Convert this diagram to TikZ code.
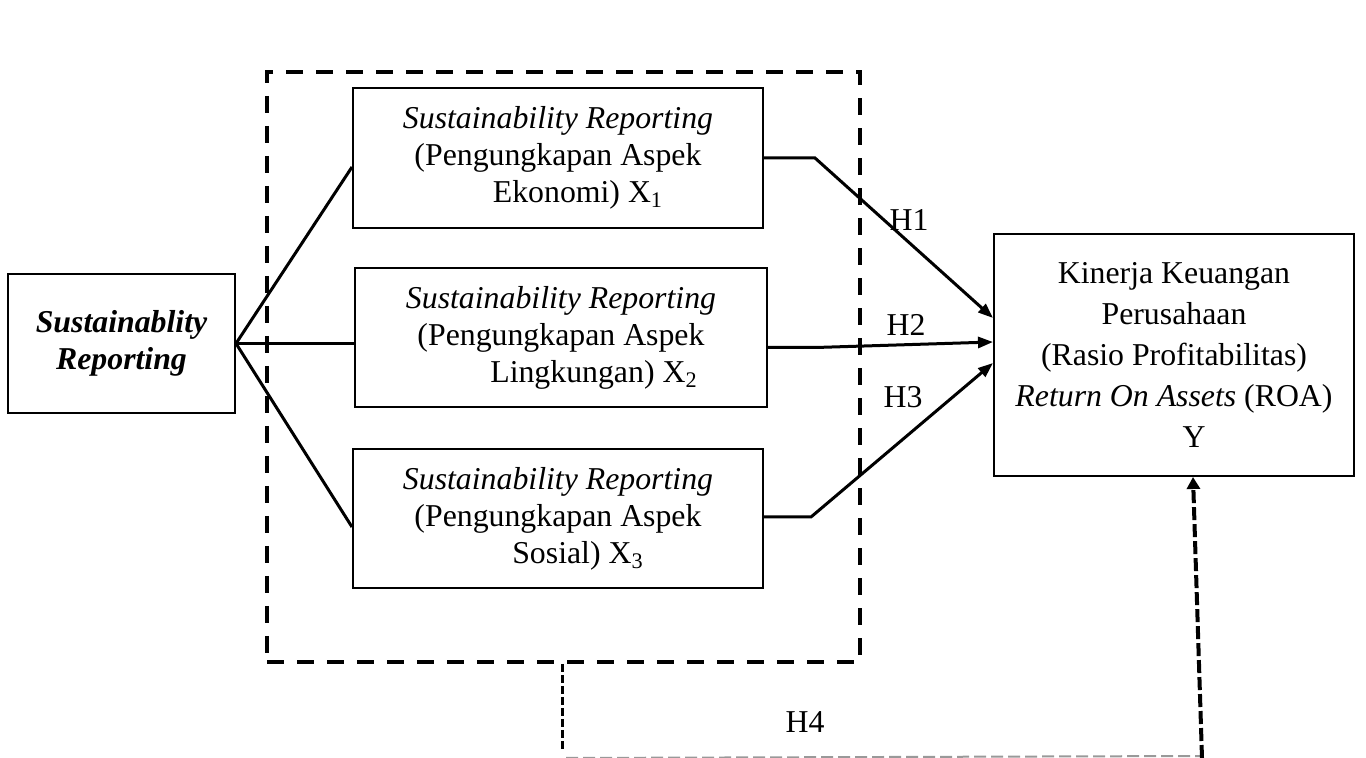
\documentclass[tikz,border=0pt]{standalone}
\usepackage{fontspec}
\setmainfont{Liberation Serif}
\usetikzlibrary{arrows.meta,calc}
\tikzset{
  box/.style={draw,line width=1pt,align=center,inner sep=0pt,
    font=\fontsize{15.9}{18.5}\selectfont},
  link/.style={line width=1.5pt},
  hyp/.style={line width=1.5pt,-{Triangle[length=7.5pt,width=5.5pt]}},
  grpbox/.style={draw,line width=2pt,dash pattern=on 8.5pt off 6.5pt},
  lbl/.style={font=\fontsize{15.9}{18.5}\selectfont},
}
\newcommand{\padl}[1][20pt]{\hspace*{#1}}

\begin{document}
\begin{tikzpicture}[x=0.5pt,y=-0.5pt]
\useasboundingbox (0,0) rectangle (1366,758);
% kelompok variabel X
\node[grpbox,minimum width=296.5pt,minimum height=295pt] (grp) at (563.5,367) {};
\node[box,minimum width=113.5pt,minimum height=69.5pt,
  font={\fontsize{15.9}{18.5}\selectfont\bfseries\itshape}] (sr) at (121.5,343.5)
  {Sustainablity\\Reporting};
\node[box,minimum width=205pt,minimum height=70pt] (x1) at (558,158)
  {\textit{Sustainability Reporting}\\(Pengungkapan Aspek\\\padl Ekonomi) X\textsubscript{1}};
\node[box,minimum width=206pt,minimum height=69.5pt] (x2) at (561,337.5)
  {\textit{Sustainability Reporting}\\(Pengungkapan Aspek\\\padl[29pt] Lingkungan) X\textsubscript{2}};
\node[box,minimum width=205pt,minimum height=69.5pt] (x3) at (558,518.5)
  {\textit{Sustainability Reporting}\\(Pengungkapan Aspek\\\padl Sosial) X\textsubscript{3}};
% variabel Y
\node[box,minimum width=180pt,minimum height=121pt,
  font={\fontsize{15.9}{20.5}\selectfont}] (yv) at (1174,355)
  {Kinerja Keuangan\\Perusahaan\\(Rasio Profitabilitas)\\\textit{Return On Assets} (ROA)\\\padl Y};

\draw[link] (sr.east) -- ($(x1.west)+(0,9)$);
\draw[link] (sr.east) -- (sr.east -| x2.west);
\draw[link] (sr.east) -- ($(x3.west)+(0,8.5)$);

\draw[hyp] (x1.east) -- ++(51,0) -- ($(yv.west)+(0,-37)$);
\draw[hyp] ($(x2.east)+(0,10)$) -- ++(48,0) -- ($(yv.west)+(0,-13)$);
\draw[hyp] ($(x3.east)+(0,-1.5)$) -- ++(47,0) -- ($(yv.west)+(0,8)$);
\node[lbl] (h1) at (909,220) {H1};
\node[lbl] (h2) at (906,325) {H2};
\node[lbl] (h3) at (903,397) {H3};

% H4
\coordinate (h4a) at ($(grp.south west)+(297,0)$);
\draw[line width=1.5pt,dash pattern=on 4pt off 1.5pt] (h4a) -- ++(0,87) coordinate (h4b);
\draw[black!40,line width=1pt,dash pattern=on 6pt off 2.5pt] ($(h4b)+(4,7)$) -- (1201,756) coordinate (h4c);
\draw[line width=2pt,dash pattern=on 6.5pt off 2pt,-{Triangle[length=6pt,width=6.5pt]}]
  (1202,758) -- ($(yv.south)+(19,0)$);
\node[lbl] (h4) at (805,722) {H4};
\end{tikzpicture}
\end{document}
